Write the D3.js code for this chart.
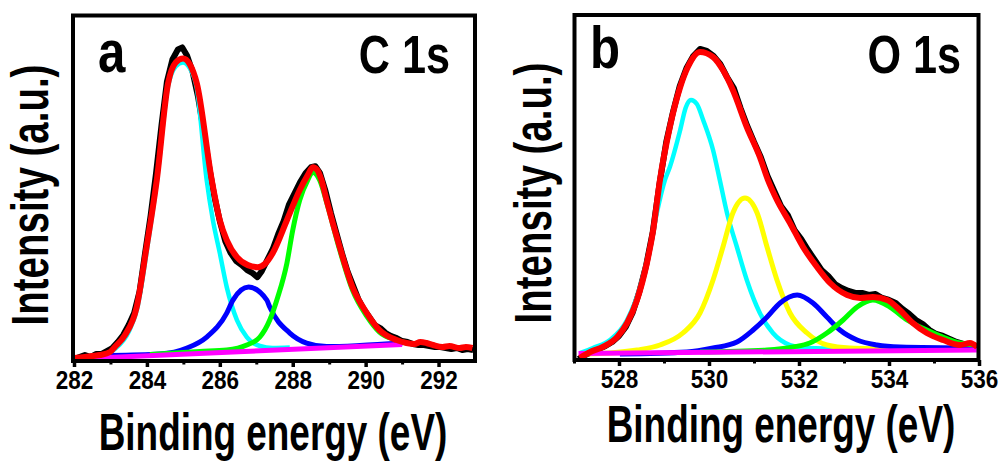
<!DOCTYPE html>
<html><head><meta charset="utf-8">
<script src="https://cdn.jsdelivr.net/npm/d3@7"></script>
<style>body{margin:0;background:#fff}svg{display:block}</style>
</head><body>
<svg id="chart" width="1002" height="471"></svg>
<script>
// ---------- Panel a : C 1s ----------
const c1sTicks = [282, 284, 286, 288, 290, 292];
const c1sMinor = [283, 285, 287, 289, 291];
const c1sRaw = [[282.00,2],[282.15,4],[282.30,6],[282.45,4],[282.60,7],[282.75,7],[282.90,10],[283.05,13],[283.20,19],[283.35,26],[283.50,36],[283.65,48],[283.80,70],[283.95,108],[284.10,145],[284.25,188],[284.40,236],[284.55,280],[284.70,302],[284.85,312],[284.97,314],[285.10,306],[285.25,290],[285.40,265],[285.55,232],[285.70,196],[285.85,165],[286.00,140],[286.15,120],[286.30,108],[286.45,100],[286.60,96],[286.75,91],[286.90,88],[287.03,84],[287.15,90],[287.30,101],[287.45,112],[287.60,127],[287.75,140],[287.90,157],[288.05,168],[288.20,179],[288.35,188],[288.50,194],[288.62,195],[288.75,188],[288.90,170],[289.05,148],[289.20,128],[289.35,108],[289.50,90],[289.65,76],[289.80,62],[289.95,52],[290.10,44],[290.25,36],[290.40,33],[290.55,28],[290.70,25],[290.85,23],[291.00,20],[291.15,19],[291.30,17],[291.45,16],[291.60,16],[291.75,15],[291.90,14],[292.05,14],[292.20,13],[292.35,12],[292.50,13],[292.65,11],[292.80,12],[292.95,11]];
const c1sFit = [[282.00,3],[282.30,4],[282.49,5],[282.71,6],[282.99,9],[283.12,14],[283.40,26],[283.72,54],[283.99,114],[284.27,181],[284.58,278],[284.79,299],[284.99,303],[285.18,297],[285.37,278],[285.78,181],[286.00,141],[286.19,121],[286.47,104],[286.77,96],[287.04,94],[287.23,97],[287.45,108],[287.84,141],[288.19,171],[288.41,186],[288.55,194],[288.68,191],[288.79,181],[288.93,161],[289.29,114],[289.64,74],[290.03,48],[290.38,31],[290.85,21],[291.12,18],[291.34,17],[291.50,19],[291.67,18],[291.85,16],[292.11,14],[292.30,15],[292.58,13],[292.75,14],[292.93,13]];
const c1sPeak1 = [[282.30,4],[282.71,5],[283.12,12],[283.51,30],[283.73,52],[284.00,111],[284.27,179],[284.58,275],[284.79,295],[284.99,299],[285.18,293],[285.37,273],[285.64,181],[285.81,141],[286.00,108],[286.19,74],[286.47,41],[286.74,24],[287.10,15],[287.45,13],[287.92,13.5]];
const c1sPeak2 = [[283.00,5.5],[284.36,7],[285.10,13],[285.64,24],[286.19,48],[286.36,61],[286.79,74],[287.29,61],[287.37,54],[287.92,28],[288.38,18],[288.93,14.5],[289.84,15.5],[291.01,18]];
const c1sPeak3 = [[284.08,6.5],[285.45,9.5],[286.19,11],[286.74,16],[287.10,24],[287.37,41],[287.59,64],[287.84,98],[288.00,131],[288.19,161],[288.41,181],[288.55,189],[288.74,181],[288.93,159],[289.29,111],[289.64,71],[290.03,45],[290.38,29],[290.85,21],[291.12,18]];
const c1sBackground = [[282.0,2],[291.0,16.5]];

// ---------- Panel b : O 1s ----------
const o1sTicks = [528, 530, 532, 534, 536];
const o1sMinor = [527, 529, 531, 533, 535];
const o1sRaw = [[527.10,1],[527.25,5],[527.40,8],[527.55,11],[527.70,14],[527.85,18],[528.00,24],[528.15,33],[528.30,47],[528.45,68],[528.60,94],[528.75,128],[528.90,176],[529.05,218],[529.20,248],[529.35,274],[529.50,292],[529.65,304],[529.80,311],[529.95,309],[530.10,304],[530.25,296],[530.40,283],[530.55,272],[530.70,252],[530.85,234],[531.00,218],[531.15,203],[531.30,184],[531.45,169],[531.60,154],[531.75,145],[531.90,130],[532.05,121],[532.20,110],[532.35,100],[532.50,90],[532.65,84],[532.80,76],[532.95,72],[533.10,69],[533.25,67],[533.40,67],[533.55,65],[533.70,66],[533.85,62],[534.00,60],[534.15,57],[534.30,51],[534.45,46],[534.60,40],[534.75,36],[534.90,30],[535.05,26],[535.20,24],[535.35,21],[535.50,18],[535.65,16],[535.80,16],[535.95,12]];
const o1sFit = [[527.13,2],[527.36,8],[527.64,13],[527.96,23],[528.18,37],[528.40,60],[528.62,97],[528.76,130],[528.91,180],[529.13,233],[529.36,273],[529.53,293],[529.80,308],[530.09,303],[530.31,290],[530.53,270],[530.84,233],[531.13,203],[531.31,180],[531.51,160],[531.80,137],[532.09,113],[532.40,93],[532.69,77],[533.07,65],[533.36,62],[533.64,63],[533.96,60],[534.24,50],[534.53,37],[534.84,27],[535.20,20],[535.58,15],[535.80,17],[535.96,13]];
const o1sPeak1 = [[527.13,7],[527.42,12],[527.80,20],[528.18,40],[528.47,73],[528.69,113],[528.84,147],[529.02,180],[529.13,193],[529.36,230],[529.48,252],[529.60,260],[529.73,256],[529.87,240],[530.09,210],[530.24,180],[530.40,147],[530.62,113],[530.84,80],[531.13,47],[531.42,27],[531.80,15],[532.18,12],[533.13,11]];
const o1sPeak2 = [[527.24,6],[527.80,7],[528.40,10],[528.91,15],[529.42,27],[529.80,47],[530.09,80],[530.31,113],[530.53,147],[530.80,162],[531.07,147],[531.29,113],[531.51,80],[531.80,47],[532.18,27],[532.62,15],[533.13,12],[534.24,11]];
const o1sPeak3 = [[528.02,6],[529.51,8],[530.09,12],[530.62,18],[530.98,30],[531.29,43],[531.58,57],[531.96,65],[532.31,57],[532.62,43],[532.91,30],[533.29,20],[533.73,15],[534.24,13],[535.91,12]];
const o1sPeak4 = [[529.80,8],[531.29,10],[531.87,13],[532.24,17],[532.62,27],[532.98,40],[533.29,53],[533.64,60],[534.02,53],[534.40,40],[534.84,30],[535.20,23],[535.58,17],[535.91,15]];
const o1sBackground = [[527.10,6.5],[535.95,10]];

const panelLetters = ["a", "b"];
const panelTitles = ["C 1s", "O 1s"];
const xTitle = "Binding energy (eV)";
const yTitle = "Intensity (a.u.)";

const FONT = "'Liberation Sans', Arial, Helvetica, sans-serif";
const svg = d3.select("#chart");

const panels = [
  {id:"a", xd:[282,293], xr:[74,475], yd:[0,346], yr:[361,15.5], frame:[73,15.5,475,361],
   ticks:c1sTicks, minor:c1sMinor, raw:c1sRaw, fit:c1sFit,
   comps:[{d:c1sPeak1,c:"#00ffff",w:4.5},{d:c1sPeak2,c:"#0000ff",w:5},{d:c1sPeak3,c:"#00ff00",w:5}],
   bg:c1sBackground, letter:panelLetters[0], title:panelTitles[0],
   letterPos:[98,72], titlePos:[450,73], xtPos:[273,450], ytPos:[48,195]},
  {id:"b", xd:[527,536], xr:[574,979], yd:[0,345], yr:[360,15], frame:[574.5,15,978.5,360],
   ticks:o1sTicks, minor:o1sMinor, raw:o1sRaw, fit:o1sFit,
   comps:[{d:o1sPeak1,c:"#00ffff",w:4.5},{d:o1sPeak2,c:"#ffff00",w:5},{d:o1sPeak3,c:"#0000ff",w:5},{d:o1sPeak4,c:"#00ff00",w:5}],
   bg:o1sBackground, letter:panelLetters[1], title:panelTitles[1],
   letterPos:[590,68], titlePos:[961,73], xtPos:[781,442], ytPos:[551,193]}
];

function scaledText(g, x, y, txt, size, sx, anchor, rot) {
  const t = g.append("g").attr("transform",
    `translate(${x},${y})` + (rot ? ` rotate(${rot})` : "") + ` scale(${sx},1)`);
  t.append("text").attr("x",0).attr("y",0)
    .attr("text-anchor", anchor)
    .attr("font-family", FONT).attr("font-weight","bold")
    .attr("font-size", size).attr("fill","#000").text(txt);
  return t;
}

panels.forEach((p, i) => {
  const g = svg.append("g");
  const x = d3.scaleLinear().domain(p.xd).range(p.xr);
  const y = d3.scaleLinear().domain(p.yd).range(p.yr);
  const clipId = "clip" + p.id;
  svg.append("clipPath").attr("id", clipId).append("rect")
    .attr("x", p.frame[0]).attr("y", p.frame[1])
    .attr("width", p.frame[2]-p.frame[0]).attr("height", p.frame[3]-p.frame[1]);

  const plot = g.append("g").attr("clip-path", `url(#${clipId})`);
  const smooth = d3.line().x(d=>x(d[0])).y(d=>y(d[1])).curve(d3.curveMonotoneX);
  const raw = d3.line().x(d=>x(d[0])).y(d=>y(d[1])).curve(d3.curveLinear);

  plot.append("path").attr("d", raw(p.raw)).attr("fill","none")
    .attr("stroke","#000").attr("stroke-width",6).attr("stroke-linejoin","round");
  p.comps.forEach(cmp => {
    plot.append("path").attr("d", smooth(cmp.d)).attr("fill","none")
      .attr("stroke", cmp.c).attr("stroke-width", cmp.w).attr("stroke-linejoin","round");
  });
  plot.append("path").attr("d", raw(p.bg)).attr("fill","none")
    .attr("stroke","#ff00ff").attr("stroke-width",5);
  plot.append("path").attr("d", smooth(p.fit)).attr("fill","none")
    .attr("stroke","#ff0000").attr("stroke-width",6).attr("stroke-linejoin","round");

  // frame
  g.append("rect").attr("x", p.frame[0]).attr("y", p.frame[1])
    .attr("width", p.frame[2]-p.frame[0]).attr("height", p.frame[3]-p.frame[1])
    .attr("fill","none").attr("stroke","#000").attr("stroke-width",4);

  // axes
  const ax = g.append("g").attr("transform", `translate(0,${p.frame[3]})`)
    .call(d3.axisBottom(x).tickValues(p.ticks).tickSize(6).tickFormat(d3.format("d")));
  ax.select(".domain").remove();
  ax.selectAll(".tick line").attr("stroke","#000").attr("stroke-width",3.5);
  ax.selectAll(".tick text").attr("y",28).attr("dy",0)
    .attr("font-family", FONT).attr("font-weight","bold").attr("font-size",25)
    .attr("fill","#000").attr("transform","scale(0.9,1)");
  const axm = g.append("g").attr("transform", `translate(0,${p.frame[3]})`)
    .call(d3.axisBottom(x).tickValues(p.minor).tickSize(3.5).tickFormat(""));
  axm.select(".domain").remove();
  axm.selectAll(".tick line").attr("stroke","#000").attr("stroke-width",3);

  // labels
  scaledText(g, p.letterPos[0], p.letterPos[1], p.letter, 60, 0.82, "start");
  scaledText(g, p.titlePos[0], p.titlePos[1], p.title, 54, 0.8, "end");
  scaledText(g, p.xtPos[0], p.xtPos[1], xTitle, 52, 0.71, "middle");
  scaledText(g, p.ytPos[0], p.ytPos[1], yTitle, 52, 0.74, "middle", -90);
});
</script>
</body></html>
